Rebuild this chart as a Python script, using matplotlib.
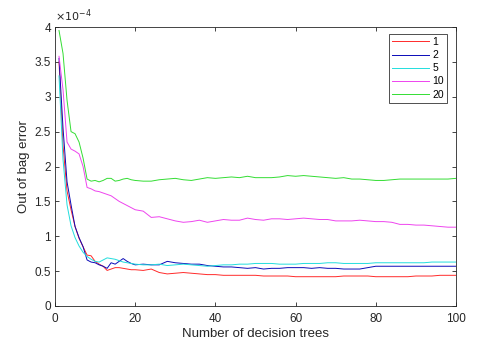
import matplotlib
matplotlib.use("Agg")
import matplotlib.pyplot as plt

plt.rcParams['font.family'] = ['Liberation Sans', 'DejaVu Sans']

# number of decision trees where values were read
trees = list(range(1, 21)) + list(range(22, 101, 2))

# out of bag error, in units of 1e-4
err_1 = [3.50, 2.30, 1.65, 1.38, 1.14, 0.97, 0.85, 0.73, 0.72, 0.64,
         0.60, 0.57, 0.51, 0.53, 0.55, 0.55, 0.54, 0.53, 0.52, 0.52,
         0.51, 0.53, 0.48, 0.46, 0.47, 0.48, 0.47, 0.46, 0.45, 0.45,
         0.44, 0.44, 0.44, 0.44, 0.44, 0.43, 0.43, 0.43, 0.43, 0.42,
         0.42, 0.42, 0.42, 0.42, 0.42, 0.43, 0.43, 0.43, 0.43, 0.42,
         0.42, 0.42, 0.42, 0.42, 0.43, 0.43, 0.43, 0.44, 0.44, 0.44]
err_2 = [3.55, 2.55, 1.78, 1.45, 1.14, 0.98, 0.85, 0.66, 0.63, 0.62,
         0.59, 0.57, 0.54, 0.62, 0.60, 0.64, 0.68, 0.64, 0.61, 0.59,
         0.60, 0.59, 0.59, 0.64, 0.62, 0.61, 0.60, 0.60, 0.58, 0.57,
         0.56, 0.56, 0.55, 0.54, 0.55, 0.53, 0.54, 0.54, 0.55, 0.55,
         0.55, 0.54, 0.55, 0.54, 0.54, 0.53, 0.53, 0.53, 0.55, 0.57,
         0.57, 0.57, 0.57, 0.57, 0.57, 0.57, 0.57, 0.57, 0.57, 0.57]
err_5 = [3.30, 2.10, 1.45, 1.15, 0.98, 0.86, 0.77, 0.71, 0.67, 0.64,
         0.63, 0.66, 0.69, 0.68, 0.67, 0.65, 0.63, 0.62, 0.61, 0.60,
         0.59, 0.59, 0.60, 0.58, 0.59, 0.60, 0.59, 0.58, 0.57, 0.58,
         0.59, 0.59, 0.60, 0.60, 0.61, 0.61, 0.61, 0.60, 0.60, 0.60,
         0.61, 0.61, 0.61, 0.62, 0.62, 0.61, 0.61, 0.61, 0.61, 0.62,
         0.62, 0.62, 0.62, 0.62, 0.62, 0.62, 0.63, 0.63, 0.63, 0.63]
err_10 = [3.58, 3.10, 2.35, 2.25, 2.22, 2.18, 2.00, 1.70, 1.68, 1.65,
          1.64, 1.62, 1.60, 1.58, 1.54, 1.50, 1.47, 1.44, 1.41, 1.38,
          1.36, 1.27, 1.28, 1.25, 1.22, 1.20, 1.21, 1.23, 1.20, 1.22,
          1.24, 1.23, 1.23, 1.26, 1.24, 1.23, 1.25, 1.25, 1.24, 1.25,
          1.26, 1.25, 1.24, 1.24, 1.22, 1.22, 1.22, 1.23, 1.22, 1.21,
          1.21, 1.20, 1.17, 1.17, 1.16, 1.16, 1.15, 1.14, 1.13, 1.13]
err_20 = [3.95, 3.62, 2.95, 2.50, 2.47, 2.35, 2.12, 1.82, 1.79, 1.80,
          1.78, 1.80, 1.83, 1.83, 1.79, 1.80, 1.82, 1.83, 1.81, 1.80,
          1.79, 1.79, 1.81, 1.82, 1.83, 1.81, 1.80, 1.82, 1.84, 1.83,
          1.84, 1.85, 1.84, 1.86, 1.84, 1.84, 1.84, 1.85, 1.87, 1.86,
          1.87, 1.86, 1.85, 1.84, 1.83, 1.84, 1.82, 1.82, 1.81, 1.80,
          1.80, 1.81, 1.82, 1.82, 1.82, 1.82, 1.82, 1.82, 1.82, 1.83]

labels = ['1', '2', '5', '10', '20']
colors = ['#ff2a2a', '#0a0ab8', '#22dddd', '#ee44ee', '#33dd33']


def main():
    fig = plt.figure(figsize=(4.86, 3.56), dpi=100)
    ax = fig.add_axes([55 / 486, 50 / 356, 401 / 486, 279 / 356])

    series = [err_1, err_2, err_5, err_10, err_20]
    for vals, lab, col in zip(series, labels, colors):
        ax.plot(trees, vals, color=col, lw=0.7, label=lab)

    ax.set_xlim(0, 100)
    ax.set_ylim(0, 4)
    ax.set_xticks(range(0, 101, 20))
    ax.set_yticks([0, 0.5, 1, 1.5, 2, 2.5, 3, 3.5, 4])
    ax.set_yticklabels(['0', '0.5', '1', '1.5', '2', '2.5', '3', '3.5', '4'])
    ax.tick_params(direction='in', length=3, width=0.6, top=True, right=True,
                   labelsize=8.5, colors='#262626')
    ax.tick_params(axis='x', pad=5)
    ax.tick_params(axis='y', pad=3)
    for sp in ax.spines.values():
        sp.set_color('#262626')
        sp.set_linewidth(0.6)

    ax.set_xlabel('Number of decision trees', fontsize=9.5, color='#262626', labelpad=2)
    ax.set_ylabel('Out of bag error', fontsize=9.5, color='#262626', labelpad=3)
    ax.text(0, 1.01, r'$\times10^{-4}$', transform=ax.transAxes, fontsize=8,
            color='#262626', ha='left', va='bottom')

    leg = ax.legend(loc='upper right', bbox_to_anchor=(1 - 9 / 401, 1 - 7 / 279),
                    borderaxespad=0, fontsize=7.5, handlelength=3.6, handletextpad=0.3,
                    labelspacing=0.3, borderpad=0.3, fancybox=False)
    leg.get_frame().set_edgecolor('black')
    leg.get_frame().set_linewidth(0.6)

    fig.savefig('out.png', dpi=100)


if __name__ == "__main__":
    main()
